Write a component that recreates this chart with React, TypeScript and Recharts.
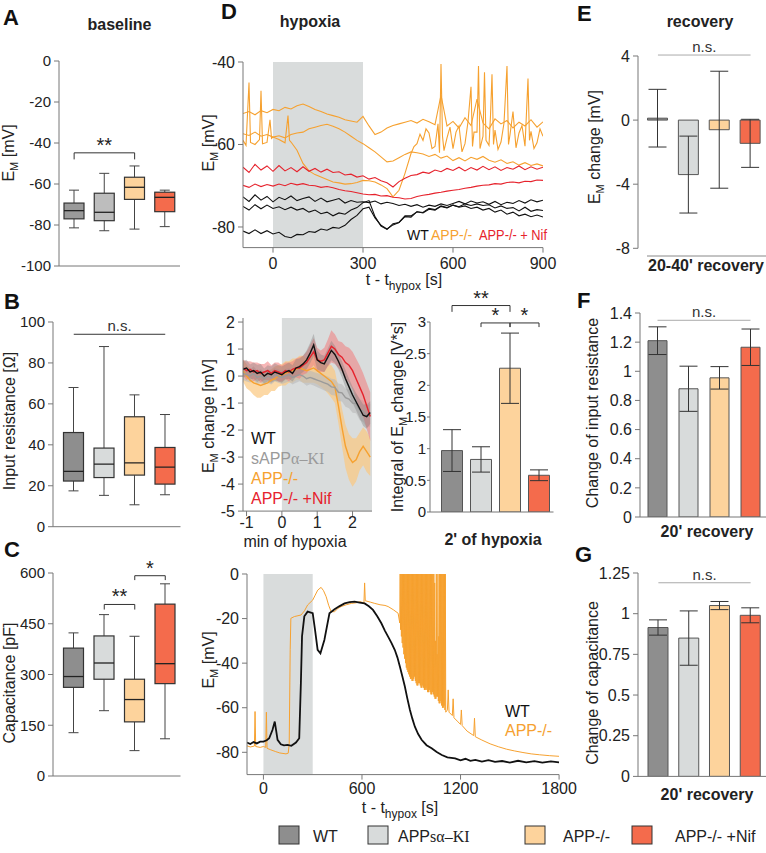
import React from 'react';
import {
  ComposedChart,
  Line,
  Area,
  Bar,
  XAxis,
  YAxis,
  ReferenceArea,
  ReferenceLine,
  ErrorBar,
  Cell,
} from 'recharts';

const FONT = "'Liberation Sans', Arial, Helvetica, sans-serif";
const SERIF = "'Liberation Serif', 'Times New Roman', serif";
const AX = '#777';
const ORANGE = '#f6a12f';
const RED = '#e6222c';
const BLACK = '#111111';
const GRAYLINE = '#9a9a9a';

// ---------- groups ----------
const GROUPS = ['WT', 'APPsα-KI', 'APP-/-', 'APP-/- +Nif'];
const FILLS = ['#8e8e8e', '#d8dbdb', '#fdd39c', '#f46b4c'];
const FILLS_A = ['#9a9a9a', '#bdbdbd', '#fdd39c', '#f46b4c'];

// ---------- A: baseline EM (box plots) ----------
const A_MIN = [-81.4, -82.8, -82, -80.8];
const A_Q1 = [-77, -77.9, -67.5, -73.5];
const A_MED = [-73, -73.8, -61.6, -66.5];
const A_Q3 = [-69.3, -64.5, -56.7, -64];
const A_MAX = [-63, -54.8, -51.2, -63];
const A_TICKS = [-100, -80, -60, -40, -20, 0];

// ---------- B: input resistance ----------
const B_MIN = [17.5, 15.3, 10.7, 15.6];
const B_Q1 = [22.3, 24, 25.2, 20.8];
const B_MED = [27, 30.6, 31.2, 29.1];
const B_Q3 = [46, 38.4, 53.7, 38.7];
const B_MAX = [68, 88, 64.4, 54.8];
const B_TICKS = [0, 20, 40, 60, 80, 100];

// ---------- C: capacitance ----------
const C_MIN = [128, 193, 75, 110];
const C_Q1 = [262, 286, 160, 273];
const C_MED = [294, 334, 226, 332];
const C_Q3 = [378, 414, 286, 508];
const C_MAX = [423, 477, 413, 568];
const C_TICKS = [0, 150, 300, 450, 600];

// ---------- D top: hypoxia traces ----------
const T1 = [-100, -80, -60, -40, -20, 0, 20, 40, 60, 80, 100, 120, 140, 160, 180, 200, 220, 240, 260, 280, 300, 320, 340, 360, 380, 400, 420, 440, 460, 480, 500, 520, 540, 560, 580, 600, 620, 640, 660, 680, 700, 720, 740, 760, 780, 800, 820, 840, 860, 880, 900];
const APP_TRACE_1 = [-52.5, -52, -52.8, -51.8, -52.3, -51.5, -51.8, -51, -51.4, -50.6, -50.2, -50.8, -51.5, -52, -52.6, -53, -53.4, -54, -54.3, -54.6, -53.2, -55.5, -57.6, -57, -56, -55.4, -55, -54.6, -54.2, -54.8, -53.9, -54.5, -55.2, -48, -55.5, -54.4, -56, -53.5, -55.4, -49, -54.8, -56.2, -53.8, -55, -54.2, -56, -54.6, -55.5, -54, -55.8, -54.5];
const APP_TRACE_2 = [-57.4, -57.8, -57, -58, -57.6, -58.2, -57.9, -58.4, -57.6, -57.2, -57, -56.2, -55.8, -55.4, -55.1, -55.6, -56.2, -57, -58, -59, -59.8, -60.8, -61.8, -63, -64.2, -64, -63.2, -62.4, -61.8, -62, -62.3, -62.9, -62.4, -63.3, -62.8, -63.9, -63.2, -64, -63.1, -63.6, -62.9, -63.8, -64.3, -63.7, -64.6, -64.2, -65, -64.4, -65.1, -64.7, -65.2];
const APP_TRACE_3: [number, number][] = [
  [-100, -59], [-90, -60.2], [-80, -45], [-75, -59.5], [-60, -60], [-45, -58.8], [-40, -47], [-35, -59.8], [-20, -59.5], [-10, -54], [-5, -58.5], [0, -58.2], [20, -58.8], [40, -59.6], [50, -53], [55, -59], [60, -59.4], [80, -61.4], [100, -64.6], [120, -66.4], [140, -67.3], [160, -67.9], [180, -68.5], [200, -69.1], [220, -69.3], [240, -69.6], [260, -69.5], [280, -69.2], [300, -68.7], [320, -68.8], [340, -69.1], [360, -69.8], [380, -70.7], [400, -72.7], [420, -71.1], [440, -67],
  [460, -62.2], [470, -60.5], [480, -59.8], [490, -57.5], [500, -59], [510, -56.2], [520, -57.2], [530, -61], [540, -60.5], [550, -55], [555, -62], [560, -40.5], [565, -58], [570, -61.5], [580, -58.4], [590, -55.8], [600, -61], [610, -57], [620, -55.5], [630, -61.8], [640, -59.8], [650, -54.5], [660, -46], [665, -60.5], [670, -57], [680, -57], [685, -41], [690, -61], [700, -58], [705, -42.5], [710, -59], [720, -60.2], [725, -53], [730, -43], [735, -60], [740, -56.5], [750, -61.2], [760, -59.4], [770, -54.8], [780, -41], [785, -60], [790, -57.6], [800, -52], [810, -60.8], [820, -57.2], [830, -55.4], [840, -60.4], [850, -44], [855, -59], [860, -56.8], [870, -61], [880, -59.6], [890, -56.2], [900, -58],
];
const NIF_TRACE_1 = [-65.5, -66.8, -64.8, -66.2, -65.2, -66.5, -65.1, -66.4, -65.6, -66.6, -65.4, -66.5, -65.8, -66.7, -66, -66.8, -66.6, -67.4, -67.2, -67.9, -67.6, -68.4, -68, -68.8, -69.3, -70.3, -69, -68.2, -67.5, -67.3, -66.7, -67, -66.2, -66.6, -65.8, -66.3, -65.5, -66.4, -65.6, -66.2, -65.3, -66.1, -65.4, -66.3, -65.6, -66, -65.2, -66.1, -65.4, -66, -65.5];
const NIF_TRACE_2 = [-69.9, -70.4, -69.6, -70.2, -69.7, -70.1, -69.6, -70, -69.4, -69.8, -69.5, -69.9, -70, -70.4, -70.2, -70.5, -70.9, -71.2, -71.4, -71.7, -72, -72.2, -72.1, -72.5, -72.4, -72.8, -72.9, -73.2, -73.1, -72.6, -72.3, -72.1, -71.8, -71.6, -71.3, -71.1, -70.9, -70.6, -70.4, -70.1, -69.9, -69.8, -69.5, -69.6, -69.2, -69.1, -69.3, -68.9, -69, -68.6, -68.7];
const WT_TRACE_1 = [-72.7, -73.8, -72.2, -73.5, -72.6, -73.9, -72.8, -73.4, -72.5, -73.6, -73.1, -72.7, -73.8, -73, -73.9, -73.5, -73.1, -74.2, -73.6, -74, -73.9, -74.1, -73.7, -74.4, -74, -74.3, -74.8, -74.5, -75, -74.6, -75.2, -74.7, -75, -74.4, -74.8, -74.3, -73.8, -74.4, -73.7, -74.2, -73.9, -74.5, -73.8, -74.6, -74, -74.3, -73.6, -74.2, -73.4, -73.9, -73.5];
const WT_TRACE_2 = [-75, -75.9, -74.6, -75.6, -74.7, -75.5, -75.1, -75.8, -75.2, -75.9, -75.5, -76.4, -75.9, -76.8, -76.4, -77.3, -76.6, -76.9, -75.9, -75.3, -74.1, -73.6, -77.5, -79.8, -80.6, -79.2, -78.9, -77.5, -77.6, -76.3, -76.5, -75.5, -75.8, -74.9, -75.3, -74.7, -75.2, -74.9, -75.5, -75.2, -75.9, -75.5, -76.4, -75.9, -76.9, -76.4, -77.3, -76.9, -77.5, -77.1, -77.6];
const WT_TRACE_3 = [-81, -81.6, -80.7, -81.6, -80.9, -81.7, -81.3, -82.3, -82.6, -81.8, -81.9, -81.1, -81.3, -80.5, -80.8, -80.1, -80.3, -79.6, -78.2, -77.2, -75.6, -75.2, -77.8, -79.6, -80.5, -79.5, -78.9, -77.3, -77.3, -76.3, -76.6, -75.7, -75.9, -75, -75.4, -74.7, -75.1, -74.4, -74.8, -74.4, -74.8, -74.6, -75.4, -74.9, -75.5, -75.3, -76.1, -75.2, -76.2, -75.8, -76];

// ---------- D middle left: EM change in first minutes ----------
const T2 = [-1.1, -1, -0.9, -0.8, -0.7, -0.6, -0.5, -0.4, -0.3, -0.2, -0.1, 0, 0.1, 0.2, 0.3, 0.4, 0.5, 0.6, 0.7, 0.8, 0.9, 1, 1.1, 1.2, 1.3, 1.4, 1.5, 1.6, 1.7, 1.8, 1.9, 2, 2.1, 2.2, 2.3, 2.4, 2.5];
const ML_WT = [0.25, 0.3, 0.15, 0.2, 0.1, 0.15, 0, 0.1, 0.05, 0.15, 0.1, 0.05, 0.15, 0.2, 0.1, 0.3, 0.35, 0.45, 0.6, 0.85, 1.15, 0.6, 0.5, 0.45, 0.7, 0.95, 0.8, 0.55, 0.25, -0.1, -0.4, -0.7, -0.95, -1.2, -1.45, -1.5, -1.35];
const ML_KI = [0.1, 0.05, 0, 0.1, -0.05, 0, -0.1, 0, -0.05, 0.05, 0, -0.05, 0, 0.05, -0.05, 0, 0.05, 0, -0.1, -0.05, -0.1, -0.15, -0.2, -0.25, -0.3, -0.4, -0.42, -0.6, -0.62, -0.8, -0.85, -1, -1.02, -1.25, -1.3, -1.5, -1.45];
const ML_APP = [0.2, 0, -0.15, -0.25, -0.3, -0.35, -0.3, -0.25, -0.15, -0.1, 0, 0.05, 0.1, 0.15, 0.2, 0.25, 0.3, 0.25, 0.2, 0.25, 0.3, 0.2, 0.1, 0, -0.1, -0.2, -0.4, -1.1, -1.9, -2.6, -3, -3.2, -3.1, -2.8, -2.6, -2.8, -3];
const ML_NIF = [0.3, 0.2, 0.25, 0.15, 0.2, 0.1, 0.15, 0.2, 0.1, 0.2, 0.15, 0.1, 0.2, 0.15, 0.25, 0.3, 0.3, 0.4, 0.5, 0.7, 0.9, 0.6, 0.55, 0.6, 0.85, 1.1, 1, 0.8, 0.7, 0.5, 0.4, 0.2, -0.1, -0.4, -0.7, -1.1, -1.5];
const ML_WT_SEM = [0.3, 0.3, 0.28, 0.3, 0.32, 0.3, 0.28, 0.3, 0.3, 0.32, 0.3, 0.3, 0.28, 0.3, 0.3, 0.32, 0.3, 0.3, 0.35, 0.38, 0.42, 0.36, 0.3, 0.3, 0.32, 0.36, 0.32, 0.3, 0.3, 0.32, 0.3, 0.3, 0.32, 0.36, 0.4, 0.45, 0.42];
const ML_KI_SEM = [0.25, 0.25, 0.24, 0.26, 0.25, 0.25, 0.24, 0.25, 0.26, 0.25, 0.25, 0.24, 0.25, 0.25, 0.26, 0.25, 0.24, 0.25, 0.26, 0.25, 0.25, 0.26, 0.27, 0.28, 0.28, 0.3, 0.3, 0.32, 0.32, 0.34, 0.34, 0.36, 0.36, 0.38, 0.4, 0.4, 0.42];
const ML_APP_SEM = [0.4, 0.45, 0.4, 0.45, 0.5, 0.45, 0.4, 0.45, 0.4, 0.45, 0.4, 0.4, 0.45, 0.4, 0.45, 0.4, 0.45, 0.5, 0.45, 0.5, 0.55, 0.5, 0.5, 0.5, 0.55, 0.6, 0.6, 0.65, 0.7, 0.8, 0.85, 0.9, 0.8, 0.7, 0.7, 0.75, 0.7];
const ML_NIF_SEM = [0.3, 0.35, 0.3, 0.35, 0.3, 0.35, 0.3, 0.35, 0.3, 0.3, 0.35, 0.3, 0.3, 0.35, 0.3, 0.35, 0.4, 0.35, 0.4, 0.45, 0.5, 0.45, 0.4, 0.45, 0.5, 0.6, 0.55, 0.5, 0.55, 0.6, 0.65, 0.7, 0.75, 0.8, 0.8, 0.85, 0.9];

// ---------- D middle right: integral of EM change ----------
const INT_MEAN = [0.97, 0.83, 2.27, 0.58];
const INT_ERR = [0.33, 0.2, 0.555, 0.085];
const INT_TICKS = [0, 0.5, 1, 1.5, 2, 2.5, 3];

// ---------- D bottom: long traces [t (s), EM (mV)] ----------
const BOT_WT: [number, number][] = [
  [-100, -75.6], [-80, -76.3], [-60, -75.4], [-40, -76], [-20, -75.2], [0, -75.2], [20, -74.6], [35, -73.7], [55, -70], [69, -66.2], [78, -70.5], [86, -74.4], [106, -76.4], [125, -76.9], [147, -76.7], [170, -77.1], [198, -75.6], [218, -73.7], [228, -49], [235, -28], [249, -19], [269, -16.9], [300, -17.6], [314, -25], [330, -34], [347, -35.6], [371, -29.6], [402, -17.6], [433, -15.8], [464, -14.4], [494, -13.2], [525, -12.6], [555, -12.4], [586, -12.8], [616, -13.2], [642, -14.5], [667, -16.1], [693, -19], [718, -22.1], [740, -25.5], [759, -28.1], [780, -31], [800, -34.1], [816, -37.5], [831, -41.6], [846, -46], [861, -50.5], [876, -55.8], [892, -61], [907, -65], [922, -68.5], [942, -71.8], [963, -74.4], [993, -76.8], [1024, -78.2], [1055, -79.9], [1086, -81.2], [1120, -82.3], [1167, -82.7], [1200, -83.6], [1230, -82.9], [1260, -83.8], [1290, -83.4], [1330, -84.2], [1370, -83.5], [1410, -84.3], [1453, -83.9], [1500, -84.6], [1550, -83.8], [1600, -84.5], [1650, -84], [1698, -84.6], [1750, -84.1], [1800, -84.5],
];
const BOT_APP: [number, number][] = [
  [-100, -77.1], [-80, -77.6], [-55, -77.2], [-51, -61.7], [-47, -77.4], [-20, -77.8], [0, -77.4], [14, -77.8], [18, -62], [22, -78.2], [45, -78.9], [75, -79.7], [100, -80.3], [137, -80.7], [151, -80.4], [157, -76], [163, -34], [167, -19.9], [188, -19.1], [229, -18.4], [250, -16.5], [269, -13.9], [300, -11.7], [315, -9.5], [331, -7.2], [351, -6], [366, -7.5], [382, -10.2], [397, -14], [412, -16.9], [433, -16.9], [453, -15.5], [473, -14.6], [504, -13.8], [535, -13.2], [565, -12.9], [590, -12.4], [612, -13], [616, -4], [620, -12], [650, -12.6], [678, -13.2], [710, -13.8], [740, -14.1], [759, -14.6], [790, -16], [820, -17.6],
  [830, -22], [832.5, 0], [835, -25], [837.5, 0], [840, -28], [842.5, 0], [845, -31], [847.5, 0], [850, -33], [852.5, 0], [855, -36], [857.5, 0], [860, -38], [862.5, 0], [865, -40], [867.5, 0], [870, -42], [872.5, 0], [875, -43], [877.5, 0], [880, -44], [882.5, 0], [885, -45], [887.5, 0], [890, -46], [892.5, 0], [895, -47], [897.5, 0], [900, -47], [902.5, 0], [905, -48], [907.5, 0], [910, -48], [912.5, 0], [915, -47], [917.5, 0], [920, -46], [922.5, 0], [925, -48], [927.5, 0], [930, -49], [932.5, 0], [935, -50], [937.5, 0], [940, -50], [942.5, 0], [945, -49], [947.5, 0], [950, -49], [952.5, 0], [955, -50], [957.5, 0], [960, -51], [962.5, 0], [965, -51], [967.5, 0], [970, -50], [972.5, 0], [975, -51], [977.5, 0], [980, -52], [982.5, 0], [985, -52], [987.5, 0], [990, -51], [992.5, 0], [995, -52], [997.5, 0], [1000, -53], [1002.5, 0], [1005, -53], [1007.5, 0], [1010, -52], [1012.5, 0], [1015, -53], [1017.5, 0], [1020, -54], [1022.5, 0], [1025, -54], [1027.5, 0], [1030, -53], [1032.5, 0], [1035, -54], [1037.5, 0], [1040, -55], [1042.5, -4], [1045, -56], [1047.5, -30], [1050, -56], [1052.5, 0], [1055, -55], [1057.5, -36], [1060, -55], [1062.5, 0], [1065, -57], [1067.5, -28], [1070, -58], [1072.5, 0], [1075, -58], [1077.5, 0], [1080, -57], [1082.5, 0], [1085, -59], [1087.5, 0], [1090, -60], [1092.5, 0], [1095, -60], [1097.5, 0], [1100, -59], [1102.5, 0], [1105, -61], [1107.5, 0], [1110, -62],
  [1120, -61], [1125, -52], [1130, -62], [1150, -63.5], [1155, -56], [1160, -64.5], [1180, -66], [1200, -67.5], [1205, -61], [1210, -68], [1240, -70.5], [1280, -72.5], [1285, -64.7], [1290, -73], [1330, -74.5], [1380, -76.2], [1430, -77.5], [1480, -78.6], [1530, -79.4], [1580, -80.1], [1630, -80.7], [1680, -81.1], [1740, -81.5], [1800, -81.8],
];

// ---------- E/F/G: recovery ----------
const E_MEAN = [0.12, -3.4, -0.6, -1.45];
const E_ERR = [1.8, 2.4, 3.65, 1.5];
const E_TICKS = [-8, -4, 0, 4];
const F_MEAN = [1.21, 0.88, 0.955, 1.165];
const F_ERR = [0.095, 0.155, 0.077, 0.125];
const F_TICKS = [0, 0.2, 0.4, 0.6, 0.8, 1, 1.2, 1.4];
const G_MEAN = [0.915, 0.85, 1.05, 0.99];
const G_ERR = [0.047, 0.167, 0.025, 0.046];
const G_TICKS = [0, 0.25, 0.5, 0.75, 1, 1.25];

// ---------- builders ----------
const boxRows = (mn: number[], q1: number[], md: number[], q3: number[], mx: number[]) =>
  GROUPS.map((g, i) => ({ g, box: [q1[i], q3[i]], min: mn[i], q1: q1[i], med: md[i], q3: q3[i], max: mx[i] }));
const barRows = (v: number[], e: number[]) => GROUPS.map((g, i) => ({ g, v: v[i], e: e[i] }));
const series = (ts: number[], vs: number[]) => ts.map((t, i) => ({ t, v: vs[i] }));
const pairs = (a: [number, number][]) => a.map(([t, v]) => ({ t, v }));
const mlRows = T2.map((t, i) => ({
  t,
  wt: ML_WT[i], wtR: [ML_WT[i] - ML_WT_SEM[i], ML_WT[i] + ML_WT_SEM[i]],
  ki: ML_KI[i], kiR: [ML_KI[i] - ML_KI_SEM[i], ML_KI[i] + ML_KI_SEM[i]],
  app: ML_APP[i], appR: [ML_APP[i] - ML_APP_SEM[i], ML_APP[i] + ML_APP_SEM[i]],
  nif: ML_NIF[i], nifR: [ML_NIF[i] - ML_NIF_SEM[i], ML_NIF[i] + ML_NIF_SEM[i]],
}));

type Rect = { x0: number; y0: number; x1: number; y1: number };
function frame(r: Rect, yw: number, xh: number, t: number, rt: number, b: number) {
  return {
    left: r.x0 - yw,
    top: r.y0 - t,
    width: yw + (r.x1 - r.x0) + rt,
    height: t + (r.y1 - r.y0) + xh + b,
    margin: { top: t, right: rt, bottom: b, left: 0 },
  };
}

const yAx = (w: number, domain: number[], ticks: number[], fs = 15, ts = 5, tm = 3) => ({
  type: 'number' as const,
  width: w,
  domain,
  ticks,
  interval: 0 as const,
  allowDataOverflow: true,
  tickSize: ts,
  tickMargin: tm,
  axisLine: { stroke: AX },
  tickLine: { stroke: AX },
  tick: { fontSize: fs, fill: '#222', fontFamily: FONT },
});

function bracket(key: string, xa: string, xb: string, y: number, yEnd: number, label: string, color = '#333', fs = 20) {
  return [
    <ReferenceLine key={key + 'h'} segment={[{ x: xa, y }, { x: xb, y }]} stroke={color} strokeWidth={1} ifOverflow="visible"
      label={{ value: label, position: 'top', offset: 1, fontSize: fs, fill: '#222', fontFamily: FONT }} />,
    <ReferenceLine key={key + 'a'} segment={[{ x: xa, y }, { x: xa, y: yEnd }]} stroke={color} strokeWidth={1} ifOverflow="visible" />,
    <ReferenceLine key={key + 'b'} segment={[{ x: xb, y }, { x: xb, y: yEnd }]} stroke={color} strokeWidth={1} ifOverflow="visible" />,
  ];
}
function nsLine(key: string, y: number, color: string) {
  return (
    <ReferenceLine key={key} segment={[{ x: GROUPS[0], y }, { x: GROUPS[3], y }]} stroke={color} strokeWidth={1} ifOverflow="visible"
      label={{ value: 'n.s.', position: 'top', offset: 3, fontSize: 15, fill: '#333', fontFamily: FONT }} />
  );
}

const BoxShape = (props: any) => {
  const { x, y, width, height } = props;
  const p = props.payload ?? props;
  const idx = typeof props.index === 'number' ? props.index : GROUPS.indexOf(p.g);
  const fills: string[] = props.fills;
  const top = Math.min(y, y + height);
  const h = Math.abs(height);
  const k = h / (p.q3 - p.q1);
  const Y = (v: number) => top + (p.q3 - v) * k;
  const cx = x + width / 2;
  const cw = width / 4;
  const wc = '#444';
  return (
    <g>
      <line x1={cx} x2={cx} y1={Y(p.max)} y2={top} stroke={wc} strokeWidth={1} />
      <line x1={cx} x2={cx} y1={top + h} y2={Y(p.min)} stroke={wc} strokeWidth={1} />
      <line x1={cx - cw} x2={cx + cw} y1={Y(p.max)} y2={Y(p.max)} stroke={wc} strokeWidth={1} />
      <line x1={cx - cw} x2={cx + cw} y1={Y(p.min)} y2={Y(p.min)} stroke={wc} strokeWidth={1} />
      <rect x={x} y={top} width={width} height={h} fill={fills[idx]} stroke="#333" strokeWidth={1.2} />
      <line x1={x} x2={x + width} y1={Y(p.med)} y2={Y(p.med)} stroke="#222" strokeWidth={1.3} />
    </g>
  );
};

function BoxPanel({ rect, rows, domain, ticks, padL, fills, extra, padT }: any) {
  const f = frame(rect, 44, 1, padT, 4, 12);
  return (
    <div style={{ position: 'absolute', left: f.left, top: f.top }}>
      <ComposedChart width={f.width} height={f.height} data={rows} margin={f.margin}>
        <XAxis dataKey="g" type="category" tick={false} tickLine={false} height={1} axisLine={{ stroke: AX }} padding={{ left: padL, right: 0 }} />
        <YAxis {...yAx(44, domain, ticks, 15)} />
        <Bar dataKey="box" barSize={20} isAnimationActive={false} shape={(p: any) => <BoxShape {...p} fills={fills} />} />
        {extra}
      </ComposedChart>
    </div>
  );
}

function BarPanel({ rect, rows, domain, ticks, padL, barSize, axisLine, extra, padT, fs = 16, ts = 5, tm = 3 }: any) {
  const rt = rect.x1 >= 765 ? 0 : 4;
  const f = frame(rect, 44, 1, padT, rt, 12);
  return (
    <div style={{ position: 'absolute', left: f.left, top: f.top }}>
      <ComposedChart width={f.width} height={f.height} data={rows} margin={f.margin}>
        <XAxis dataKey="g" type="category" tick={false} tickLine={false} height={1} axisLine={axisLine ? { stroke: AX } : false} padding={{ left: padL, right: 0 }} />
        <YAxis {...yAx(44, domain, ticks, fs, ts, tm)} />
        <Bar dataKey="v" barSize={barSize} stroke="#555" strokeWidth={1} isAnimationActive={false}>
          {rows.map((r: any, i: number) => (
            <Cell key={r.g} fill={FILLS[i]} />
          ))}
          <ErrorBar dataKey="e" width={9} stroke="#333" strokeWidth={1} direction="y" isAnimationActive={false} />
        </Bar>
        {extra}
      </ComposedChart>
    </div>
  );
}

const xNum = (domain: number[], ticks: number[], tm = 2) => ({
  type: 'number' as const,
  dataKey: 't',
  domain,
  ticks,
  interval: 0 as const,
  allowDataOverflow: true,
  height: 26,
  tickSize: 5,
  tickMargin: tm,
  axisLine: { stroke: AX },
  tickLine: { stroke: AX },
  tick: { fontSize: 16, fill: '#222', fontFamily: FONT },
});

function TopTraces() {
  const r = { x0: 243.3, y0: 61.7, x1: 543.3, y1: 247.3 };
  const f = frame(r, 44, 26, 10, 20, 4);
  const traces = [
    { d: series(T1, APP_TRACE_1), c: ORANGE },
    { d: series(T1, APP_TRACE_2), c: ORANGE },
    { d: pairs(APP_TRACE_3), c: ORANGE },
    { d: series(T1, NIF_TRACE_1), c: RED },
    { d: series(T1, NIF_TRACE_2), c: RED },
    { d: series(T1, WT_TRACE_1), c: BLACK },
    { d: series(T1, WT_TRACE_2), c: BLACK },
    { d: series(T1, WT_TRACE_3), c: BLACK },
  ];
  return (
    <div style={{ position: 'absolute', left: f.left, top: f.top }}>
      <ComposedChart width={f.width} height={f.height} margin={f.margin}>
        <ReferenceArea x1={0} x2={300} fill="#d9dcdc" fillOpacity={1} stroke="none" ifOverflow="hidden" />
        <XAxis {...xNum([-100, 900], [0, 300, 600, 900], 5)} />
        <YAxis {...yAx(44, [-85, -40], [-80, -60, -40], 16)} />
        {traces.map((tr, i) => (
          <Line key={i} data={tr.d} dataKey="v" type="linear" stroke={tr.c} strokeWidth={1.1} dot={false} isAnimationActive={false} />
        ))}
      </ComposedChart>
    </div>
  );
}

function MidLeft() {
  const r = { x0: 243.3, y0: 317.6, x1: 372.3, y1: 510.7 };
  const f = frame(r, 44, 26, 10, 6, 4);
  return (
    <div style={{ position: 'absolute', left: f.left, top: f.top }}>
      <ComposedChart width={f.width} height={f.height} data={mlRows} margin={f.margin}>
        <ReferenceArea x1={0} x2={2.55} fill="#d9dcdc" fillOpacity={1} stroke="none" ifOverflow="hidden" />
        <XAxis {...xNum([-1.1, 2.55], [-1, 0, 1, 2], 1)} />
        <YAxis {...yAx(44, [-5, 2.15], [-5, -4, -3, -2, -1, 0, 1, 2], 16)} />
        <Area dataKey="appR" type="linear" fill="#fbc77f" fillOpacity={0.7} stroke="none" isAnimationActive={false} />
        <Area dataKey="kiR" type="linear" fill="#b9b9b9" fillOpacity={0.6} stroke="none" isAnimationActive={false} />
        <Area dataKey="nifR" type="linear" fill="#f07b7b" fillOpacity={0.55} stroke="none" isAnimationActive={false} />
        <Area dataKey="wtR" type="linear" fill="#777" fillOpacity={0.35} stroke="none" isAnimationActive={false} />
        <Line dataKey="app" type="linear" stroke={ORANGE} strokeWidth={1.4} dot={false} isAnimationActive={false} />
        <Line dataKey="ki" type="linear" stroke={GRAYLINE} strokeWidth={1.4} dot={false} isAnimationActive={false} />
        <Line dataKey="nif" type="linear" stroke={RED} strokeWidth={1.4} dot={false} isAnimationActive={false} />
        <Line dataKey="wt" type="linear" stroke={BLACK} strokeWidth={1.4} dot={false} isAnimationActive={false} />
      </ComposedChart>
    </div>
  );
}

function BottomTraces() {
  const r = { x0: 246.5, y0: 574, x1: 558.6, y1: 774.6 };
  const f = frame(r, 44, 26, 10, 24, 4);
  return (
    <div style={{ position: 'absolute', left: f.left, top: f.top }}>
      <ComposedChart width={f.width} height={f.height} margin={f.margin}>
        <ReferenceArea x1={0} x2={300} fill="#d9dcdc" fillOpacity={1} stroke="none" ifOverflow="hidden" />
        <XAxis {...xNum([-100, 1800], [0, 600, 1200, 1800], 3)} />
        <YAxis {...yAx(44, [-90, 0], [-80, -60, -40, -20, 0], 16)} />
        <Line data={pairs(BOT_APP)} dataKey="v" type="linear" stroke={ORANGE} strokeWidth={1} dot={false} isAnimationActive={false} />
        <Line data={pairs(BOT_WT)} dataKey="v" type="linear" stroke={BLACK} strokeWidth={1.8} dot={false} isAnimationActive={false} />
      </ComposedChart>
    </div>
  );
}

const Tx = ({ x, y, children, size = 16, weight = 'normal', anchor = 'start', fill = '#222', family = FONT, len }: any) => (
  <text x={x} y={y} fontSize={size} fontWeight={weight} textAnchor={anchor} fill={fill} fontFamily={family}
    textLength={len} lengthAdjust={len ? 'spacingAndGlyphs' : undefined}>
    {children}
  </text>
);
const VT = ({ x, cy, children, size = 16 }: any) => (
  <text transform={`translate(${x},${cy}) rotate(-90)`} textAnchor="middle" fontSize={size} fill="#222" fontFamily={FONT}>
    {children}
  </text>
);
const EM = ({ rest }: any) => (
  <>
    <tspan>E</tspan>
    <tspan dy={4} fontSize={11}>M</tspan>
    <tspan dy={-4}>{rest}</tspan>
  </>
);
const THYP = () => (
  <>
    <tspan>t - t</tspan>
    <tspan dy={5} fontSize={12}>hypox</tspan>
    <tspan dy={-5}> [s]</tspan>
  </>
);

function Overlay() {
  const legendX = [279, 368, 525, 632];
  const legendTx = [313, 398, 563, 675];
  return (
    <svg width={766} height={853} style={{ position: 'absolute', left: 0, top: 0, pointerEvents: 'none' }}>
      {/* panel letters */}
      <Tx x={3} y={25} size={22} weight="bold" fill="#111">A</Tx>
      <Tx x={4} y={309} size={22} weight="bold" fill="#111">B</Tx>
      <Tx x={4} y={557} size={22} weight="bold" fill="#111">C</Tx>
      <Tx x={221} y={19} size={22} weight="bold" fill="#111">D</Tx>
      <Tx x={577} y={21} size={22} weight="bold" fill="#111">E</Tx>
      <Tx x={577} y={308} size={22} weight="bold" fill="#111">F</Tx>
      <Tx x={575} y={562} size={22} weight="bold" fill="#111">G</Tx>
      {/* titles */}
      <Tx x={119.5} y={30} weight="bold" anchor="middle">baseline</Tx>
      <Tx x={310} y={27} weight="bold" anchor="middle">hypoxia</Tx>
      <Tx x={700} y={27} weight="bold" anchor="middle">recovery</Tx>
      {/* y labels */}
      <VT x={14} cy={153}><EM rest=" [mV]" /></VT>
      <VT x={15} cy={421}>Input resistance [Ω]</VT>
      <VT x={15} cy={683}>Capacitance [pF]</VT>
      <VT x={214} cy={143}><EM rest=" [mV]" /></VT>
      <VT x={214} cy={416}><EM rest=" change [mV]" /></VT>
      <VT x={403} cy={417}><tspan>Integral of </tspan><EM rest=" change [V*s]" /></VT>
      <VT x={214} cy={660}><EM rest=" [mV]" /></VT>
      <VT x={600} cy={147}><EM rest=" change [mV]" /></VT>
      <VT x={598} cy={413}>Change of input resistance</VT>
      <VT x={598} cy={683}>Change of capacitance</VT>
      {/* x labels */}
      <Tx x={404} y={285} anchor="middle"><THYP /></Tx>
      <Tx x={295} y={547} anchor="middle">min of hypoxia</Tx>
      <Tx x={493} y={545} anchor="middle" weight="bold">2' of hypoxia</Tx>
      <Tx x={400} y={813} anchor="middle"><THYP /></Tx>
      <Tx x={706} y={271} anchor="middle" weight="bold">20-40' recovery</Tx>
      <Tx x={707} y={537} anchor="middle" weight="bold">20' recovery</Tx>
      <Tx x={707} y={800} anchor="middle" weight="bold">20' recovery</Tx>
      <line x1={647} x2={766} y1={256} y2={256} stroke="#888" strokeWidth={1} />
      {/* in-plot legends */}
      <Tx x={407} y={240} size={14} fill={BLACK}>WT</Tx>
      <Tx x={431} y={240} size={14} fill={ORANGE}>APP-/-</Tx>
      <Tx x={479} y={240} size={14} fill={RED} len={68}>APP-/- + Nif</Tx>
      <Tx x={251} y={444} fill={BLACK} size={16}>WT</Tx>
      <Tx x={251} y={464} fill={GRAYLINE} size={16}>
        <tspan>sAPP</tspan><tspan fontFamily={SERIF}>α–KI</tspan>
      </Tx>
      <Tx x={251} y={484} fill={ORANGE} size={16}>APP-/-</Tx>
      <Tx x={251} y={504} fill={RED} size={16}>APP-/- +Nif</Tx>
      <Tx x={505} y={717} fill={BLACK} size={16}>WT</Tx>
      <Tx x={505} y={736} fill={ORANGE} size={16}>APP-/-</Tx>
      {/* bottom legend */}
      {GROUPS.map((g, i) => (
        <rect key={g} x={legendX[i]} y={826} width={20} height={18} fill={FILLS[i]} stroke="#333" strokeWidth={1} />
      ))}
      <Tx x={legendTx[0]} y={842}>WT</Tx>
      <Tx x={legendTx[1]} y={842}><tspan>APP</tspan><tspan fontFamily={SERIF}>sα–KI</tspan></Tx>
      <Tx x={legendTx[2]} y={842}>APP-/-</Tx>
      <Tx x={legendTx[3]} y={842}>APP-/- +Nif</Tx>
    </svg>
  );
}

export default function App() {
  const G0 = GROUPS[0], G1 = GROUPS[1], G2 = GROUPS[2], G3 = GROUPS[3];
  return (
    <div style={{ position: 'absolute', left: 0, top: 0, width: 766, height: 853, background: '#fff', overflow: 'hidden', fontFamily: FONT }}>
      <BoxPanel rect={{ x0: 59, y0: 61, x1: 180, y1: 266 }} rows={boxRows(A_MIN, A_Q1, A_MED, A_Q3, A_MAX)} domain={[-100, 0]} ticks={A_TICKS}
        padL={0} fills={FILLS_A} padT={12} extra={bracket('a1', G0, G2, -44.8, -48, '**')} />
      <BoxPanel rect={{ x0: 52.5, y0: 322.3, x1: 180, y1: 527 }} rows={boxRows(B_MIN, B_Q1, B_MED, B_Q3, B_MAX)} domain={[0, 100]} ticks={B_TICKS}
        padL={5.5} fills={FILLS} padT={12} extra={[nsLine('bns', 94, '#333')]} />
      <BoxPanel rect={{ x0: 52.5, y0: 573, x1: 180, y1: 776 }} rows={boxRows(C_MIN, C_Q1, C_MED, C_Q3, C_MAX)} domain={[0, 600]} ticks={C_TICKS}
        padL={5.5} fills={FILLS} padT={20}
        extra={[...bracket('c1', G1, G2, 507, 492, '**'), ...bracket('c2', G2, G3, 592, 579, '*')]} />

      <TopTraces />
      <MidLeft />
      <BarPanel rect={{ x0: 430, y0: 321.7, x1: 553.5, y1: 511.7 }} rows={barRows(INT_MEAN, INT_ERR)} domain={[0, 3]} ticks={INT_TICKS}
        padL={7.5} barSize={21} axisLine padT={40} fs={15} ts={3} tm={1}
        extra={[...bracket('d1', G0, G2, 3.26, 3.16, '**'), ...bracket('d2', G1, G2, 2.985, 2.92, '*'), ...bracket('d3', G2, G3, 2.985, 2.92, '*')]} />
      <BottomTraces />

      <BarPanel rect={{ x0: 638, y0: 56, x1: 766, y1: 248.3 }} rows={barRows(E_MEAN, E_ERR)} domain={[-8, 4]} ticks={E_TICKS}
        padL={4.5} barSize={20} axisLine={false} padT={26} extra={[nsLine('ens', 4.06, '#aaa')]} />
      <BarPanel rect={{ x0: 640, y0: 312.7, x1: 766, y1: 516.7 }} rows={barRows(F_MEAN, F_ERR)} domain={[0, 1.4]} ticks={F_TICKS}
        padL={2} barSize={19} axisLine padT={26} extra={[nsLine('fns', 1.35, '#aaa')]} />
      <BarPanel rect={{ x0: 638, y0: 573.3, x1: 766, y1: 776.7 }} rows={barRows(G_MEAN, G_ERR)} domain={[0, 1.25]} ticks={G_TICKS}
        padL={5} barSize={20} axisLine padT={26} extra={[nsLine('gns', 1.19, '#aaa')]} />

      <Overlay />
    </div>
  );
}
